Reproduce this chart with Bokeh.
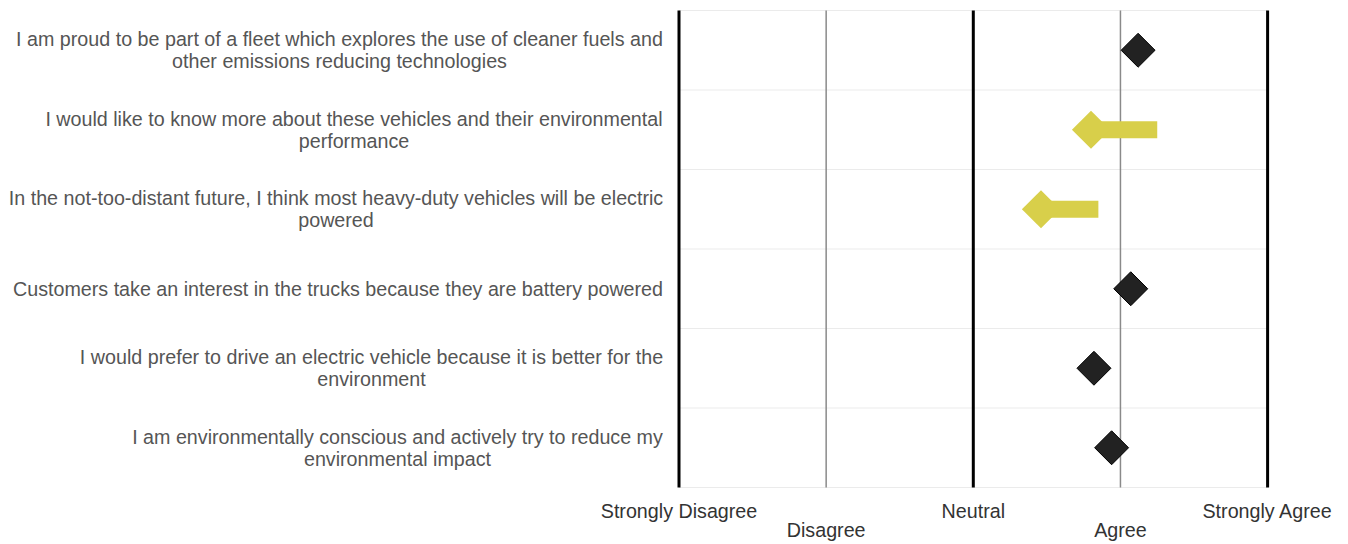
import math
from bokeh.plotting import figure
from bokeh.models import Range1d, ColumnDataSource
from bokeh.core.properties import value
from bokeh.embed import file_html
from bokeh.resources import INLINE

# ---------------- data ----------------
statements = [
    "I am proud to be part of a fleet which explores the use of cleaner fuels and\nother emissions reducing technologies",
    "I would like to know more about these vehicles and their environmental\nperformance",
    "In the not-too-distant future, I think most heavy-duty vehicles will be electric\npowered",
    "Customers take an interest in the trucks because they are battery powered",
    "I would prefer to drive an electric vehicle because it is better for the\nenvironment",
    "I am environmentally conscious and actively try to reduce my\nenvironmental impact",
]
mean_score = [4.12, 3.80, 3.46, 4.07, 3.82, 3.94]
earlier_score = [None, 4.25, 3.85, None, None, None]

scale_ticks = [1, 2, 3, 4, 5]
scale_labels = ["Strongly Disagree", "Disagree", "Neutral", "Agree", "Strongly Agree"]
label_level = [0, 1, 0, 1, 0]   # staggered tick labels

# ---------------- layout / style ----------------
FONT = "Liberation Sans"
FONT_SIZE = "19.7px"
YELLOW = "#d8cf4a"
W, H = 1346, 543
X_PX_PER_UNIT = 147.15          # horizontal scale
X_ONE_PX = 678.5                # pixel position of scale value 1
ROW_PX = 79.5                   # row height
TOP_PX = 10                     # top of first row
LABEL_RIGHT = 663               # right edge of statement text block (px)
label_block_width = [648, 619, 655, 651, 584, 532]
TICK_LABEL_PX = [510, 529]      # vertical centres of the two tick-label levels

n = len(statements)
row_center = [i + 0.5 for i in range(n)]

x_start = 1 - X_ONE_PX / X_PX_PER_UNIT
x_end = x_start + W / X_PX_PER_UNIT
y_top = -TOP_PX / ROW_PX
y_bottom = y_top + H / ROW_PX

def px_to_x(px):
    return x_start + px / X_PX_PER_UNIT

def px_to_y(py):
    return y_top + py / ROW_PX

p = figure(width=W, height=H, output_backend="svg", toolbar_location=None,
           x_range=Range1d(x_start, x_end), y_range=Range1d(y_bottom, y_top),
           x_axis_location=None, y_axis_location=None,
           min_border_left=0, min_border_right=0, min_border_top=0, min_border_bottom=0)
p.outline_line_color = None
p.grid.visible = False

lo, hi = scale_ticks[0], scale_ticks[-1]
# horizontal row separators (only across the scale)
bounds = list(range(n + 1))
p.segment(x0=[lo] * len(bounds), x1=[hi] * len(bounds), y0=bounds, y1=bounds,
          line_color="#ebebeb", line_width=1)

# vertical reference lines
major = [t for t in scale_ticks if t % 2 == 1]
minor = [t for t in scale_ticks if t % 2 == 0]
p.segment(x0=minor, x1=minor, y0=[0] * len(minor), y1=[n] * len(minor),
          line_color="#8a8a8a", line_width=1.5)
p.segment(x0=major, x1=major, y0=[0] * len(major), y1=[n] * len(major),
          line_color="black", line_width=3)

# staggered scale labels
p.text(x=scale_ticks, y=[px_to_y(TICK_LABEL_PX[l]) for l in label_level], text=scale_labels,
       text_align="center", text_baseline="middle", text_font=value(FONT),
       text_font_size=FONT_SIZE, text_color="#333333")

# arrows (earlier -> current)
idx = [i for i in range(n) if earlier_score[i] is not None]
src_a = ColumnDataSource(dict(y=[row_center[i] for i in idx],
                              left=[mean_score[i] for i in idx],
                              right=[earlier_score[i] for i in idx]))
p.hbar(y="y", left="left", right="right", height=0.215, source=src_a,
       fill_color=YELLOW, line_color=None)
p.scatter(x="left", y="y", source=src_a, marker="square", angle=math.pi / 4,
          size=27, fill_color=YELLOW, line_color=None)

# plain diamonds
idx_d = [i for i in range(n) if earlier_score[i] is None]
p.scatter(x=[mean_score[i] for i in idx_d], y=[row_center[i] for i in idx_d],
          marker="square", angle=math.pi / 4, size=24,
          fill_color="#222222", line_color="black", line_width=1)

# statement labels
src_t = ColumnDataSource(dict(
    x=[px_to_x(LABEL_RIGHT - w / 2) for w in label_block_width],
    y=row_center, text=statements))
p.text(x="x", y="y", text="text", source=src_t, text_align="center",
       text_baseline="middle", text_font=value(FONT), text_font_size=FONT_SIZE,
       text_color="#555555", text_line_height=0.99)

open("out.html", "w").write(file_html(p, INLINE))
